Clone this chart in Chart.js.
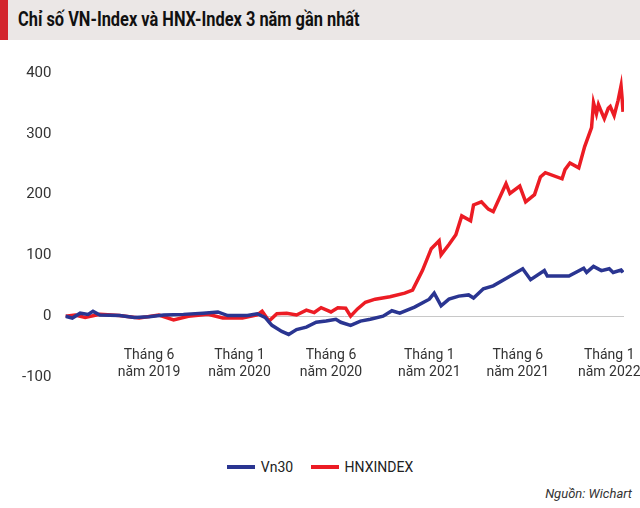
<!DOCTYPE html>
<html><head><meta charset="utf-8">
<script src="https://cdn.jsdelivr.net/npm/chart.js@4"></script>
<style>
body{margin:0;width:640px;height:508px;background:#fff;font-family:Roboto,sans-serif;overflow:hidden;position:relative}
#t{position:absolute;left:0;top:0;width:640px;height:40px;background:#ebe7e6}
#t:before{content:"";position:absolute;left:0;top:0;width:8px;height:40px;background:#d3262e}
#t span{position:absolute;left:18px;top:7px;font:bold 21px Roboto,sans-serif;color:#111;transform:scaleX(0.78);transform-origin:0 0;white-space:nowrap}
#c{position:absolute;left:0;top:50px;width:640px;height:350px}
#s{position:absolute;right:8px;top:486px;font:italic 13px Roboto,sans-serif;color:#333}
#lg{position:absolute;top:459px;left:0;width:640px;text-align:center;font:14px Roboto,sans-serif;color:#222}
#lg i{display:inline-block;width:28px;height:4px;vertical-align:middle;margin:0 6px 2px 0}
</style></head><body>
<div id="t"><span>Chỉ số VN-Index và HNX-Index 3 năm gần nhất</span></div>
<div id="c"><canvas id="cv"></canvas></div>
<div id="lg"><i style="background:#2a3591"></i>Vn30&nbsp;&nbsp;&nbsp;&nbsp;&nbsp;<i style="background:#ec1c24"></i>HNXINDEX</div>
<div id="s">Nguồn: Wichart</div>
<script>
// day offsets since start
const tickDays=[170,354,540,740,920,1106];
const tickLabels=[["Tháng 6","năm 2019"],["Tháng 1","năm 2020"],["Tháng 6","năm 2020"],["Tháng 1","năm 2021"],["Tháng 6","năm 2021"],["Tháng 1","năm 2022"]];
const vnDays=[0,14,30,46,56,70,110,140,170,200,240,280,310,330,370,390,406,420,440,454,470,490,510,530,550,560,580,600,620,646,664,680,710,740,750,764,780,800,820,830,850,870,896,930,946,974,980,1024,1054,1060,1074,1090,1106,1114,1130,1134];
const vn30=[0,-3,5,3,8,2,1,-2,-1,2,3,5,7,1,1,4,-2,-15,-25,-30,-22,-18,-10,-8,-5,-10,-15,-8,-5,0,9,5,15,28,38,17,28,33,35,30,45,50,62,78,60,75,66,66,79,72,82,75,78,72,76,72];
const hnxDays=[0,20,40,70,110,150,190,220,250,290,320,360,390,400,414,430,450,470,490,506,520,540,554,570,580,594,610,630,660,690,706,726,744,760,764,780,794,806,824,830,846,860,870,896,904,924,936,954,966,976,1010,1016,1026,1044,1056,1070,1074,1080,1084,1088,1096,1104,1108,1116,1124,1130,1132,1134];
const hnx=[0,2,-2,3,1,-3,2,-6,0,3,-3,-3,2,8,-8,4,5,2,10,6,14,7,14,13,0,12,23,28,32,38,43,75,111,124,101,118,134,165,157,183,188,176,172,218,202,214,188,200,229,236,226,241,252,244,279,310,351,333,348,340,325,342,345,330,355,379,360,336,298];
const mk=(d,v)=>d.map((x,i)=>({x,y:v[i]}));
new Chart(document.getElementById('cv'),{type:'line',
data:{datasets:[
{label:'Vn30',data:mk(vnDays,vn30),borderColor:'#2a3591',borderWidth:3.5,pointRadius:0,tension:0},
{label:'HNXINDEX',data:mk(hnxDays,hnx),borderColor:'#ec1c24',borderWidth:3.5,pointRadius:0,tension:0}]},
options:{responsive:true,maintainAspectRatio:false,animation:false,
layout:{padding:{left:8,right:16,top:10,bottom:4}},
plugins:{legend:{display:false},tooltip:{enabled:false}},
scales:{
x:{type:'linear',min:0,max:1136,border:{display:false},grid:{display:false},
afterBuildTicks:a=>{a.ticks=tickDays.map(v=>({value:v}))},
ticks:{autoSkip:false,maxRotation:0,color:'#333',font:{size:14,family:'Roboto'},padding:-38,callback:v=>tickLabels[tickDays.indexOf(v)]}},
y:{min:-100,max:400,border:{display:false},
grid:{drawTicks:false,color:c=>c.tick&&c.tick.value===0?'#c8c8c8':'transparent'},
ticks:{stepSize:100,color:'#333',font:{size:15,family:'Roboto'},padding:14}}}}});
</script></body></html>
